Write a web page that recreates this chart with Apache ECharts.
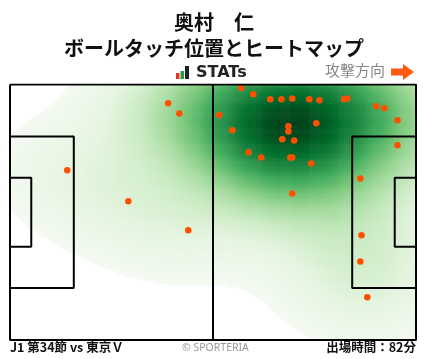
<!DOCTYPE html>
<html><head><meta charset="utf-8">
<script src="https://cdn.jsdelivr.net/npm/echarts@6/dist/echarts.min.js"></script>
<style>html,body{margin:0;padding:0;background:#fff}#c{width:428px;height:359px}</style>
</head><body><div id="c"></div>
<script>
// ---- data ----
const playerName = '奥村　仁';
const subtitle = 'ボールタッチ位置とヒートマップ';
const matchLabel = 'J1 第34節 vs 東京Ｖ';
const minutesLabel = '出場時間：82分';
const creditLabel = '© SPORTERIA';
const directionLabel = '攻撃方向';
// touch positions, pitch metres (x: 0-105 toward attack, y: 0-68 from top)
const touchX = [40.9,43.8,14.8,30.6,46.1,59.8,62.9,67.3,70.2,73.0,77.4,80.0,86.4,87.2,94.7,96.8,100.2,54.1,57.5,72.0,72.0,79.2,70.4,73.5,61.7,65.0,72.5,73.0,77.9,100.2,90.6,73.0,90.9,90.6,92.4];
const touchY = [5.0,7.7,22.8,31.1,38.8,0.9,2.6,3.9,3.9,3.7,3.9,4.2,3.9,3.7,5.8,6.3,9.5,8.1,12.2,11.1,12.5,10.3,14.6,14.9,18.0,19.4,19.4,19.4,21.0,16.2,25.0,29.0,40.1,47.1,56.6];
// pitch geometry (metres)
const pitchLength = 105, pitchWidth = 68;
const pitchSegments = [
  [[0,0],[105,0],[105,68],[0,68],[0,0]],
  [[0,13.85],[16.5,13.85],[16.5,54.15],[0,54.15]],
  [[0,24.85],[5.5,24.85],[5.5,43.15],[0,43.15]],
  [[105,13.85],[88.5,13.85],[88.5,54.15],[105,54.15]],
  [[105,24.85],[99.5,24.85],[99.5,43.15],[105,43.15]]
];
const centerLine = [[52.5,0],[52.5,68]];

// ---- heatmap density (gaussian kernel over touches) ----
const cell = 0.5, bwx = 14.5, bwy = 10.5;
const nx = Math.round(pitchLength/cell), ny = Math.round(pitchWidth/cell);
const xs = [], ys = [];
for (let i=0;i<nx;i++) xs.push(i);
for (let j=0;j<ny;j++) ys.push(j);
let dens = [], maxD = 0;
for (let i=0;i<nx;i++) for (let j=0;j<ny;j++) {
  const cx=(i+0.5)*cell, cy=(j+0.5)*cell; let d=0;
  for (let k=0;k<touchX.length;k++){const dx=(cx-touchX[k])/bwx,dy=(cy-touchY[k])/bwy;d+=Math.exp(-(dx*dx+dy*dy)/2);}
  dens.push([i,j,d]); if(d>maxD)maxD=d;
}
const thresh = 0.07;
const heat = dens.map(p=>[p[0],p[1],Math.pow(p[2]/maxD,0.75)]).filter(p=>p[2]>=thresh);

const chart = echarts.init(document.getElementById('c'), null, {renderer:'canvas'});
const G = {left:10, right:12, top:84.5, bottom:19};
chart.setOption({
  animation:false,
  title:[
    {text:playerName, left:'center', top:7, textStyle:{fontSize:20,fontWeight:'bold',color:'#111',fontFamily:'Noto Sans CJK JP'}},
    {text:subtitle, left:'center', top:33, textStyle:{fontSize:20,fontWeight:'bold',color:'#111',fontFamily:'Noto Sans CJK JP'}}
  ],
  grid:[G],
  xAxis:[
    {type:'category', data:xs, show:false, boundaryGap:true, gridIndex:0},
    {type:'value', min:0, max:pitchLength, show:false, gridIndex:0}
  ],
  yAxis:[
    {type:'category', data:ys, show:false, inverse:true, boundaryGap:true, gridIndex:0},
    {type:'value', min:0, max:pitchWidth, show:false, inverse:true, gridIndex:0}
  ],
  visualMap:{show:false, min:thresh, max:1, dimension:2, seriesIndex:0,
    inRange:{color:['#f4faf2','#e5f5e0','#c7e9c0','#a1d99b','#74c476','#41ab5d','#238b45','#006d2c','#00441b']}},
  series:[
    {type:'heatmap', xAxisIndex:0, yAxisIndex:0, data:heat, progressive:0, emphasis:{disabled:true}, silent:true},
    ...pitchSegments.map(s=>({type:'line', xAxisIndex:1, yAxisIndex:1, data:s, symbol:'none', silent:true,
      lineStyle:{color:'#000',width:2}})),
    {type:'line', xAxisIndex:1, yAxisIndex:1, data:centerLine, symbol:'none', silent:true, lineStyle:{color:'#000',width:2}},
    {type:'scatter', xAxisIndex:1, yAxisIndex:1, data:touchX.map((x,i)=>[x,touchY[i]]), symbolSize:6.5, silent:true,
      itemStyle:{color:'#ff5000',opacity:1}}
  ],
  graphic:[
    {type:'rect', shape:{x:176,y:73,width:3.5,height:6}, style:{fill:'#e8332a'}},
    {type:'rect', shape:{x:180.5,y:71,width:3.5,height:8}, style:{fill:'#1fa03a'}},
    {type:'rect', shape:{x:185,y:66,width:4,height:13}, style:{fill:'#222'}},
    {type:'text', left:196, top:65, style:{text:'STATs', font:'bold 16px "DejaVu Sans"', fill:'#222'}},
    {type:'text', right:43, top:63, style:{text:directionLabel, font:'15px "Noto Sans CJK JP"', fill:'#888'}},
    {type:'polygon', shape:{points:[[391,68.5],[403,68.5],[403,64],[414,72],[403,80],[403,75.5],[391,75.5]]}, style:{fill:'#ff5a14'}},
    {type:'text', left:10, top:341, style:{text:matchLabel, font:'bold 12.5px "Noto Sans CJK JP"', fill:'#111'}},
    {type:'text', left:182, top:343, style:{text:creditLabel, font:'10.5px "Noto Sans"', fill:'#999'}},
    {type:'text', right:12, top:341, style:{text:minutesLabel, font:'bold 12.5px "Noto Sans CJK JP"', fill:'#111'}}
  ]
});
</script></body></html>
